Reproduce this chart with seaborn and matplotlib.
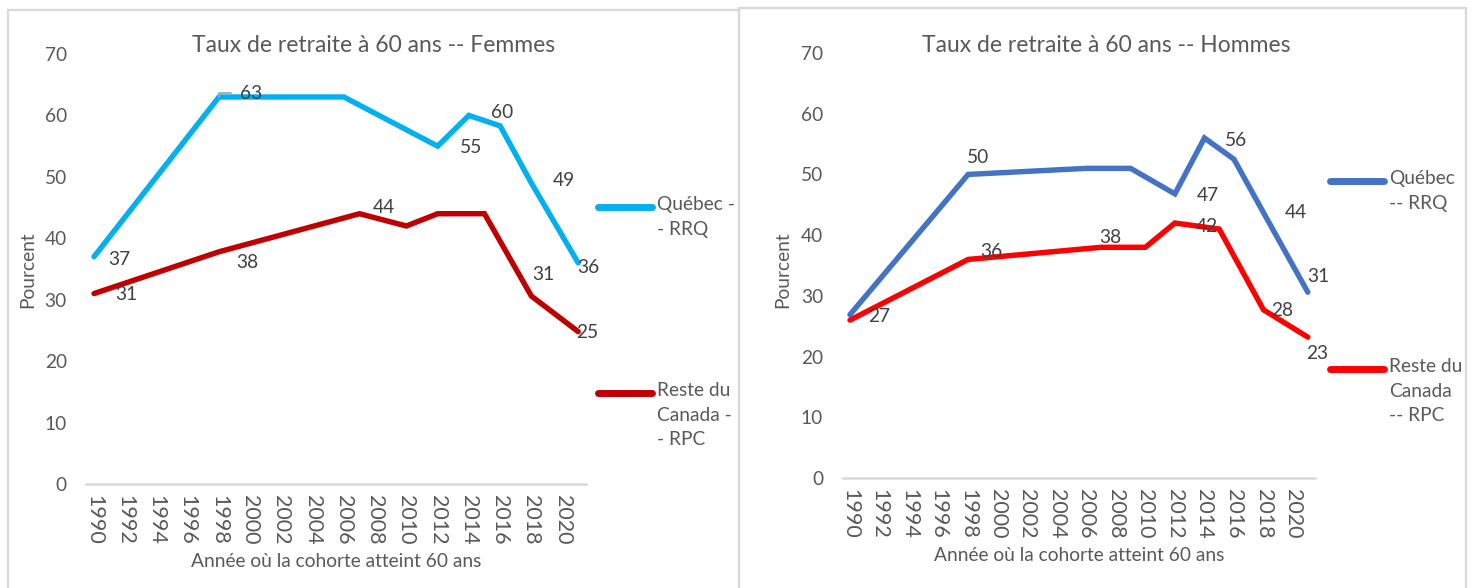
import numpy as np
import pandas as pd
import matplotlib
matplotlib.use("Agg")
import matplotlib.pyplot as plt
import seaborn as sns
from matplotlib.patches import Rectangle
from matplotlib.lines import Line2D

# ---------------- data ----------------
tick_years = list(range(1990, 2021, 2))

f_qc_years = [1990, 1998, 2006, 2012, 2014, 2016, 2018, 2021]
f_qc_vals = [37, 63, 63, 55, 60, 58.3, 49, 36]
f_qc_labeled = [1990, 1998, 2012, 2014, 2018, 2021]

f_rc_years = [1990, 1998, 2007, 2010, 2012, 2015, 2018, 2021]
f_rc_vals = [31, 37.8, 44, 42, 44, 44, 30.6, 24.8]
f_rc_labeled = [1990, 1998, 2007, 2018, 2021]

h_qc_years = [1990, 1998, 2006, 2009, 2012, 2014, 2016, 2018, 2021]
h_qc_vals = [26.9, 50, 51, 51, 46.8, 56, 52.5, 43.7, 30.6]
h_qc_labeled = [1990, 1998, 2012, 2014, 2018, 2021]

h_rc_years = [1990, 1998, 2007, 2010, 2012, 2015, 2018, 2021]
h_rc_vals = [26, 36, 38, 38, 42, 41, 27.7, 23.2]
h_rc_labeled = [1998, 2007, 2012, 2018, 2021]

titles = ["Taux de retraite à 60 ans -- Femmes", "Taux de retraite à 60 ans -- Hommes"]
xlabel = "Année où la cohorte atteint 60 ans"
ylabel = "Pourcent"
legend_f = ["Québec -\n- RRQ", "Reste du\nCanada -\n- RPC"]
legend_h = ["Québec\n-- RRQ", "Reste du\nCanada\n-- RPC"]

# ---------------- styling / layout ----------------
W, H = 1474, 588
FONT = ["Lato", "DejaVu Sans"]
TXT = "#595959"
LBL = "#404040"
FS = 13.8

sns.set_theme(style="white")
plt.rcParams["font.family"] = FONT

# label offsets in pixels (dx right, dy up)
off_f_qc = {1990: (25, -3), 1998: (32, 4), 2012: (33, -1), 2014: (33, 3), 2018: (33, 3), 2021: (10, -5)}
off_f_rc = {1990: (32, -1), 1998: (28, -11), 2007: (24, 6), 2018: (12, 22), 2021: (9, -1)}
off_h_qc = {1990: (29, -2), 1998: (10, 17), 2012: (33, -2), 2014: (32, -3), 2018: (32, 0), 2021: (11, 16)}
off_h_rc = {1998: (23, 8), 2007: (9, 10), 2012: (32, -3), 2018: (19, -1), 2021: (9, -16)}
leader = {(0, 0): 1998}  # panel 0, series 0: label with a leader line

fig = plt.figure(figsize=(W / 100, H / 100), dpi=100)

def px_rect(x0, y_top, x1, y_bot):
    return [x0 / W, (H - y_bot) / H, (x1 - x0) / W, (y_bot - y_top) / H]

# panel borders
for (x0, y0, x1) in [(8, 10, 739), (739, 8, 1466)]:
    fig.patches.append(Rectangle((x0 / W, -0.05), (x1 - x0) / W, (H - y0) / H + 0.05,
                                 transform=fig.transFigure, fill=False,
                                 edgecolor="#D9D9D9", linewidth=1.6))

panels = [
    dict(rect=px_rect(86.2, 54, 586, 484), title_x=374, title_y=46,
         series=[(f_qc_years, f_qc_vals, f_qc_labeled, off_f_qc, "#00B0F0"),
                 (f_rc_years, f_rc_vals, f_rc_labeled, off_f_rc, "#C00000")],
         legend=legend_f, leg_x=598, leg_ys=[207, 393], title=titles[0], ylab_x=28),
    dict(rect=px_rect(842.6, 53, 1315.2, 478), title_x=1106, title_y=46,
         series=[(h_qc_years, h_qc_vals, h_qc_labeled, off_h_qc, "#4472C4"),
                 (h_rc_years, h_rc_vals, h_rc_labeled, off_h_rc, "#FF0000")],
         legend=legend_h, leg_x=1330, leg_ys=[181, 369], title=titles[1], ylab_x=783),
]

for pi, p in enumerate(panels):
    ax = fig.add_axes(p["rect"])
    ax.set_facecolor("none")
    for si, (years, vals, labeled, offs, color) in enumerate(p["series"]):
        df = pd.DataFrame({"year": years, "val": vals})
        sns.lineplot(data=df, x="year", y="val", ax=ax, color=color, linewidth=3.9,
                     solid_capstyle="round", solid_joinstyle="miter")
        for yr, v in zip(years, vals):
            if yr in labeled:
                dx, dy = offs[yr]
                kw = {}
                if leader.get((pi, si)) == yr:
                    kw["arrowprops"] = dict(arrowstyle="-", color="#A6A6A6", lw=1.3,
                                            connectionstyle="angle,angleA=0,angleB=90,rad=0",
                                            shrinkA=4, shrinkB=0)
                ax.annotate(f"{v:.0f}", (yr, v), xytext=(dx, dy), textcoords="offset pixels",
                            ha="center", va="center", fontsize=FS, color=LBL, **kw)
    ax.set_xlim(1989.5, 2021.5)
    ax.set_ylim(0, 70)
    ax.set_yticks(range(0, 71, 10))
    ax.set_xticks(tick_years)
    ax.set_xticklabels([str(t) for t in tick_years], rotation=-90, fontsize=15.5, color=TXT)
    ax.tick_params(axis="y", labelsize=FS, labelcolor=TXT, length=0, pad=14)
    ax.tick_params(axis="x", length=0, pad=8)
    for s in ["top", "right", "left"]:
        ax.spines[s].set_visible(False)
    ax.spines["bottom"].set_color("#D9D9D9")
    ax.spines["bottom"].set_linewidth(1.8)
    ax.grid(False)
    ax.set_xlabel(xlabel, fontsize=FS, color=TXT, labelpad=6)
    ax.set_ylabel("")
    fig.text(p["ylab_x"] / W, 1 - 270 / H, ylabel, rotation=90, ha="center", va="center",
             fontsize=FS, color=TXT)
    fig.text(p["title_x"] / W, 1 - p["title_y"] / H, p["title"], ha="center", va="center",
             fontsize=16.5, color=TXT)
    for lab, ly, s in zip(p["legend"], p["leg_ys"], p["series"]):
        fig.lines.append(Line2D([p["leg_x"] / W, (p["leg_x"] + 54) / W], [1 - ly / H, 1 - ly / H],
                                transform=fig.transFigure, color=s[4], linewidth=5,
                                solid_capstyle="round"))
        fig.text((p["leg_x"] + 59) / W, 1 - (ly - 11) / H, lab, ha="left", va="top",
                 fontsize=FS, color=TXT, linespacing=1.55)

fig.savefig("out.png", dpi=100)
